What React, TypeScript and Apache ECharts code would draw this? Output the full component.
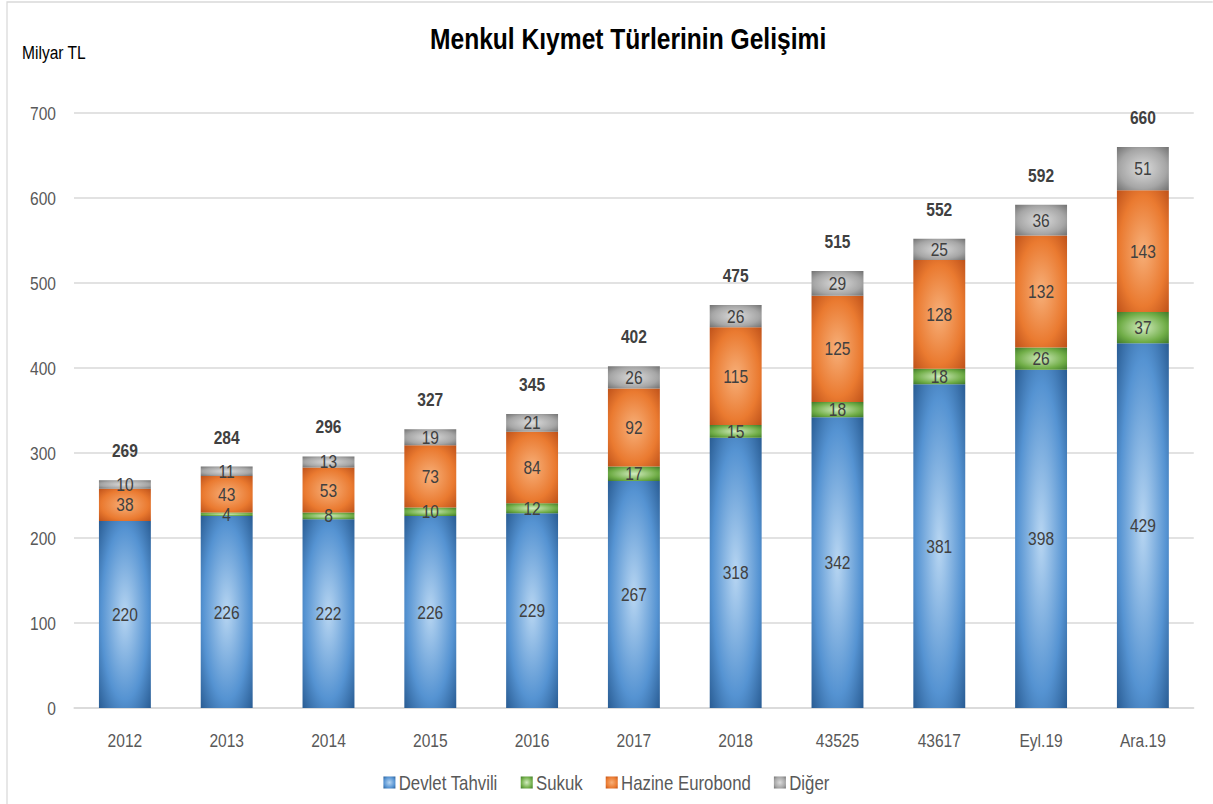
import React, { useEffect, useRef } from "react";
import * as echarts from "echarts";

const categories = ["2012", "2013", "2014", "2015", "2016", "2017", "2018", "43525", "43617", "Eyl.19", "Ara.19"];
const devletTahvili = [220, 226, 222, 226, 229, 267, 318, 342, 381, 398, 429];
const sukuk = [0, 4, 8, 10, 12, 17, 15, 18, 18, 26, 37];
const hazineEurobond = [38, 43, 53, 73, 84, 92, 115, 125, 128, 132, 143];
const diger = [10, 11, 13, 19, 21, 26, 26, 29, 25, 36, 51];
const totals = [269, 284, 296, 327, 345, 402, 475, 515, 552, 592, 660];
const yTicks = [0, 100, 200, 300, 400, 500, 600, 700];

const FONT = "'Liberation Sans', Arial, sans-serif";
// the reference looks horizontally condensed; draw wider and squeeze with CSS
const SX = 0.82;
const W = 1213;
const H = 804;
const IW = W / SX;
const px = (x: number) => x / SX;

const radial = (light: string, mid: string, dark: string) => ({
  type: "radial",
  x: 0.5,
  y: 0.5,
  r: 0.7,
  colorStops: [
    { offset: 0, color: light },
    { offset: 0.65, color: mid },
    { offset: 1, color: dark },
  ],
  global: false,
});

export default function App() {
  const ref = useRef<HTMLDivElement>(null);
  useEffect(() => {
    if (!ref.current) return;
    const chart = echarts.init(ref.current, null, { renderer: "svg" });
    const segLabel = {
      show: true,
      position: "inside",
      color: "#404040",
      fontFamily: FONT,
      fontSize: 19,
      formatter: (p: any) => (p.value ? String(p.value) : ""),
    };
    const base = {
      type: "bar",
      stack: "total",
      barWidth: "51%",
      label: segLabel,
    };
    chart.setOption({
      animation: false,
      backgroundColor: "#ffffff",
      textStyle: { fontFamily: FONT },
      title: {
        text: "Menkul Kıymet Türlerinin Gelişimi",
        left: px(624),
        top: 19,
        textAlign: "center",
        textStyle: { fontFamily: FONT, fontSize: 30, fontWeight: "bold", color: "#000000" },
      },
      graphic: [
        {
          type: "rect",
          shape: { x: px(7), y: 2, width: IW + 20, height: H + 20 },
          style: { fill: "none", stroke: "#d9d9d9", lineWidth: 1.5 },
          silent: true,
        },
        {
          type: "text",
          left: px(22),
          top: 43,
          style: { text: "Milyar TL", fontFamily: FONT, fontSize: 19, fill: "#000000" },
        },
      ],
      legend: {
        bottom: 6,
        left: "center",
        itemWidth: px(12),
        itemHeight: 12,
        itemGap: px(23),
        icon: "rect",
        textStyle: { fontFamily: FONT, fontSize: 20.5, color: "#595959", padding: [0, 0, 0, -1] },
        data: ["Devlet Tahvili", "Sukuk", "Hazine Eurobond", "Diğer"],
      },
      grid: { left: px(74), right: IW - px(1194), top: 113, bottom: 96, containLabel: false },
      xAxis: {
        type: "category",
        data: categories,
        axisLine: { lineStyle: { color: "#d9d9d9", width: 1.5 } },
        axisTick: { show: false },
        axisLabel: { color: "#595959", fontFamily: FONT, fontSize: 19, margin: 23 },
      },
      yAxis: {
        type: "value",
        min: yTicks[0],
        max: yTicks[yTicks.length - 1],
        interval: 100,
        axisLine: { show: false },
        axisTick: { show: false },
        axisLabel: { color: "#595959", fontFamily: FONT, fontSize: 19, margin: px(18) },
        splitLine: { lineStyle: { color: "#d9d9d9", width: 1.5 } },
      },
      series: [
        {
          ...base,
          name: "Devlet Tahvili",
          data: devletTahvili,
          itemStyle: { color: radial("#b8d6f2", "#5593d2", "#2a5d94") },
        },
        {
          ...base,
          name: "Sukuk",
          data: sukuk,
          itemStyle: { color: radial("#d2ecbf", "#70ad47", "#3f7a2a") },
        },
        {
          ...base,
          name: "Hazine Eurobond",
          data: hazineEurobond,
          itemStyle: { color: radial("#f7b07a", "#ea7a30", "#bf521a") },
        },
        {
          ...base,
          name: "Diğer",
          data: diger,
          itemStyle: { color: radial("#dcdcdc", "#a6a6a6", "#727272") },
        },
        {
          type: "bar",
          stack: "total",
          barWidth: "51%",
          name: "Toplam",
          data: totals.map(() => 0),
          itemStyle: { color: "transparent" },
          silent: true,
          label: {
            show: true,
            position: "top",
            distance: 20,
            color: "#404040",
            fontFamily: FONT,
            fontSize: 19,
            fontWeight: "bold",
            formatter: (p: any) => String(totals[p.dataIndex]),
          },
        },
      ],
    });
    return () => chart.dispose();
  }, []);
  return (
    <div style={{ position: "absolute", left: 0, top: 0, width: W, height: H, overflow: "hidden", background: "#fff" }}>
      <div
        ref={ref}
        style={{ width: IW, height: H, transform: `scaleX(${SX})`, transformOrigin: "0 0" }}
      />
    </div>
  );
}
